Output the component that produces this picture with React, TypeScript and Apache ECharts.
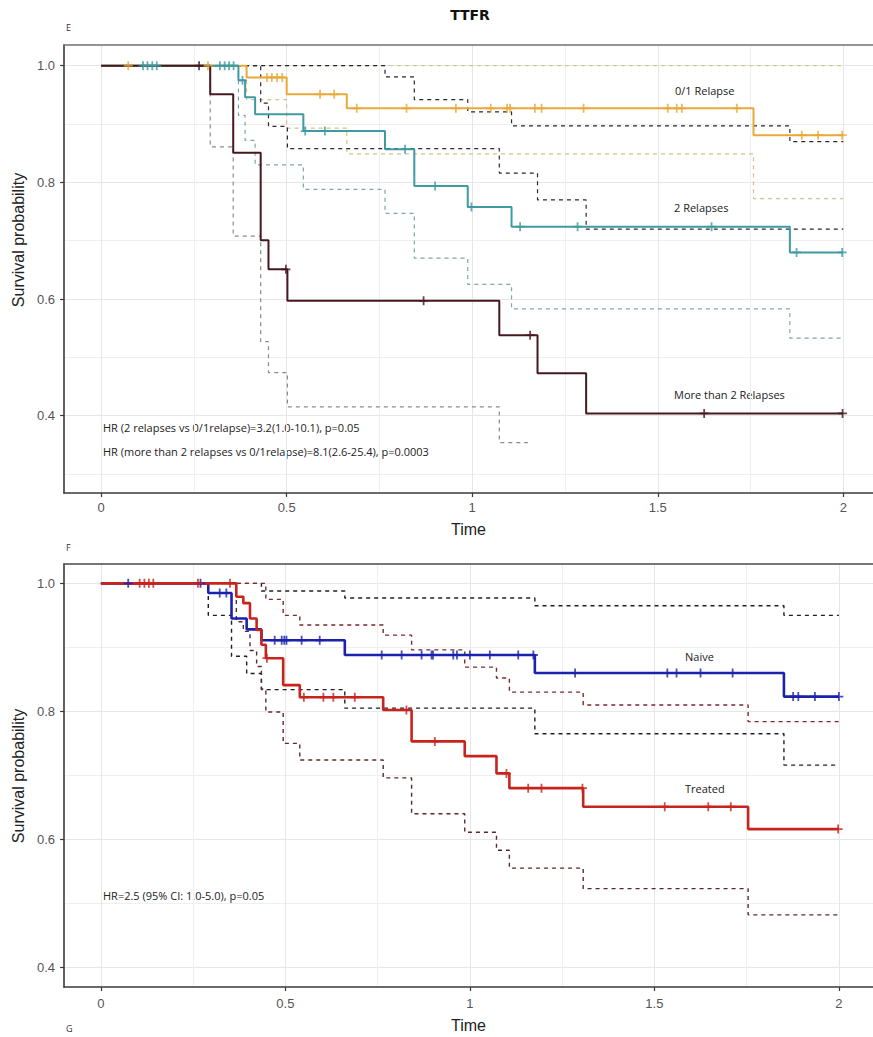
import React, { useEffect, useRef } from 'react';
import * as echarts from 'echarts';

// ---------- axis ticks ----------
const xTicks = [0, 0.5, 1, 1.5, 2];
const xTickLabels = ['0', '0.5', '1', '1.5', '2'];
const xMinor = [0.25, 0.75, 1.25, 1.75];
const yTicks = [0.4, 0.6, 0.8, 1.0];
const yTickLabels = ['0.4', '0.6', '0.8', '1.0'];
const yMinorTop = [0.3, 0.5, 0.7, 0.9];
const yMinorBottom = [0.5, 0.7, 0.9];

// ---------- panel E: relapses ----------
const rel01T = [0, 0.392, 0.5, 0.662, 1.758, 2.0];
const rel01S = [1.0, 0.98, 0.951, 0.927, 0.881, 0.881];
const rel01Cens = [0.073, 0.288, 0.447, 0.46, 0.474, 0.488, 0.59, 0.628, 0.689, 0.823, 0.956, 1.05, 1.094, 1.102, 1.169, 1.187, 1.3, 1.527, 1.551, 1.565, 1.713, 1.888, 1.932, 1.997];
const rel01UpT = [0, 2.0];
const rel01UpS = [1.0, 1.0];
const rel01LoT = [0, 0.392, 0.5, 0.662, 1.758, 2.0];
const rel01LoS = [1.0, 0.942, 0.893, 0.849, 0.772, 0.772];

const rel2T = [0, 0.37, 0.388, 0.415, 0.545, 0.765, 0.844, 0.988, 1.106, 1.856, 2.0];
const rel2S = [1.0, 0.975, 0.946, 0.917, 0.888, 0.857, 0.794, 0.758, 0.724, 0.68, 0.68];
const rel2Cens = [0.113, 0.125, 0.138, 0.15, 0.32, 0.333, 0.345, 0.357, 0.381, 0.55, 0.603, 0.819, 0.9, 0.998, 1.129, 1.284, 1.645, 1.874, 1.997];
const rel2UpT = [0, 0.765, 0.844, 0.988, 1.106, 1.856, 2.0];
const rel2UpS = [1.0, 0.981, 0.942, 0.921, 0.897, 0.87, 0.87];
const rel2LoT = [0, 0.37, 0.388, 0.415, 0.545, 0.765, 0.844, 0.988, 1.106, 1.856, 2.0];
const rel2LoS = [1.0, 0.915, 0.872, 0.83, 0.788, 0.747, 0.67, 0.625, 0.583, 0.533, 0.533];

const rel3T = [0, 0.294, 0.356, 0.43, 0.451, 0.502, 1.073, 1.176, 1.307, 2.0];
const rel3S = [1.0, 0.951, 0.851, 0.701, 0.651, 0.597, 0.538, 0.473, 0.404, 0.404];
const rel3Cens = [0.264, 0.498, 0.869, 1.156, 1.625, 1.998];
const rel3UpT = [0, 0.43, 0.451, 0.502, 1.073, 1.176, 1.307, 2.0];
const rel3UpS = [1.0, 0.936, 0.896, 0.858, 0.816, 0.77, 0.72, 0.72];
const rel3LoT = [0, 0.294, 0.356, 0.43, 0.451, 0.502, 1.073, 1.15];
const rel3LoS = [1.0, 0.861, 0.708, 0.527, 0.474, 0.415, 0.354, 0.354];

// ---------- panel F: naive vs treated ----------
const naiveT = [0, 0.291, 0.354, 0.395, 0.435, 0.661, 1.176, 1.851, 2.0];
const naiveS = [1.0, 0.985, 0.945, 0.928, 0.911, 0.888, 0.86, 0.823, 0.823];
const naiveCens = [0.074, 0.27, 0.322, 0.34, 0.471, 0.49, 0.497, 0.503, 0.544, 0.593, 0.761, 0.815, 0.869, 0.896, 0.9, 0.955, 0.965, 1.0, 1.054, 1.131, 1.172, 1.285, 1.535, 1.56, 1.625, 1.712, 1.876, 1.89, 1.935, 2.0];
const naiveUpT = [0, 0.435, 0.661, 1.176, 1.851, 2.0];
const naiveUpS = [1.0, 0.988, 0.977, 0.965, 0.95, 0.95];
const naiveLoT = [0, 0.291, 0.354, 0.395, 0.435, 0.661, 1.176, 1.851, 2.0];
const naiveLoS = [1.0, 0.95, 0.886, 0.859, 0.834, 0.805, 0.765, 0.716, 0.716];

const treatT = [0, 0.367, 0.386, 0.404, 0.422, 0.435, 0.447, 0.494, 0.539, 0.765, 0.842, 0.986, 1.072, 1.107, 1.307, 1.754, 2.0];
const treatS = [1.0, 0.979, 0.969, 0.945, 0.927, 0.904, 0.883, 0.841, 0.822, 0.802, 0.753, 0.73, 0.703, 0.68, 0.651, 0.616, 0.616];
const treatCens = [0.105, 0.118, 0.13, 0.142, 0.263, 0.35, 0.45, 0.55, 0.603, 0.63, 0.688, 0.828, 0.905, 1.099, 1.158, 1.194, 1.305, 1.528, 1.646, 1.707, 1.998];
const treatUpT = [0, 0.447, 0.494, 0.539, 0.765, 0.842, 0.986, 1.072, 1.107, 1.307, 1.754, 2.0];
const treatUpS = [1.0, 0.975, 0.95, 0.935, 0.919, 0.896, 0.869, 0.852, 0.83, 0.81, 0.784, 0.784];
const treatLoT = [0, 0.367, 0.386, 0.404, 0.422, 0.435, 0.447, 0.494, 0.539, 0.765, 0.842, 0.986, 1.072, 1.107, 1.307, 1.754, 2.0];
const treatLoS = [1.0, 0.94, 0.925, 0.895, 0.87, 0.835, 0.799, 0.75, 0.724, 0.696, 0.64, 0.611, 0.583, 0.555, 0.523, 0.482, 0.482];

// ---------- colours ----------
const C_ORANGE = '#e9a93a';
const C_TEAL = '#3f9aa1';
const C_MAROON = '#46181f';
const C_BLUE = '#1b22ad';
const C_RED = '#c8241d';

const PLUS = 'path://M4,0h2v4h4v2h-4v4h-2v-4h-4v-2h4z';

const zip = (T: number[], S: number[]) => T.map((t, i) => [t, S[i]]);
const stepAt = (T: number[], S: number[], t: number) => {
  let v = S[0];
  for (let i = 0; i < T.length; i++) if (T[i] <= t) v = S[i];
  return v;
};
const lbl = (ticks: number[], labels: string[], v: number) => {
  const i = ticks.findIndex((k) => Math.abs(k - v) < 1e-9);
  return i >= 0 ? labels[i] : '';
};

const curve = (ax: number, T: number[], S: number[], color: string, width = 2) => ({
  type: 'line', xAxisIndex: ax, yAxisIndex: ax, step: 'end', showSymbol: false, silent: true,
  data: zip(T, S), lineStyle: { color, width }, z: 4,
});
const ci = (ax: number, T: number[], S: number[], color: string, width = 1.2) => ({
  type: 'line', xAxisIndex: ax, yAxisIndex: ax, step: 'end', showSymbol: false, silent: true,
  data: zip(T, S), lineStyle: { color, width, type: [4, 4] }, z: 3,
});
const cens = (ax: number, T: number[], S: number[], C: number[], color: string) => ({
  type: 'scatter', xAxisIndex: ax, yAxisIndex: ax, symbol: PLUS, symbolSize: 9, silent: true,
  data: C.map((t) => [t, stepAt(T, S, t)]), itemStyle: { color }, z: 5,
});

const AXIS_FONT = 'Liberation Sans, Arial, sans-serif';
const ANN_FONT = 'Open Sans, sans-serif';

const mainX = (gridIndex: number, max: number, nameGap: number, margin: number) => ({
  type: 'value', gridIndex, min: -0.1, max, position: 'bottom',
  axisLine: { show: true, onZero: false, lineStyle: { color: '#3a3a3a', width: 1.6 } },
  axisTick: { show: true, length: 4, customValues: xTicks, lineStyle: { color: '#3a3a3a', width: 1.2 } },
  axisLabel: { customValues: xTicks, formatter: (v: number) => lbl(xTicks, xTickLabels, v), color: '#555', fontSize: 13, margin, fontFamily: AXIS_FONT },
  splitLine: { show: true, lineStyle: { color: '#e6e6e6', width: 1 } },
  name: 'Time', nameLocation: 'middle', nameGap,
  nameTextStyle: { fontSize: 16, color: '#222', fontFamily: AXIS_FONT },
});
const minorX = (gridIndex: number, max: number, borderColor: string) => ({
  type: 'value', gridIndex, min: -0.1, max, position: 'top',
  axisLine: { show: true, onZero: false, lineStyle: { color: borderColor, width: 1.6 } },
  axisTick: { show: false, customValues: xMinor }, axisLabel: { show: false },
  splitLine: { show: true, lineStyle: { color: '#efefef', width: 1 } },
});
const mainY = (gridIndex: number, min: number, max: number) => ({
  type: 'value', gridIndex, min, max, position: 'left',
  axisLine: { show: true, onZero: false, lineStyle: { color: '#3a3a3a', width: 1.6 } },
  axisTick: { show: true, length: 4, customValues: yTicks, lineStyle: { color: '#3a3a3a', width: 1.2 } },
  axisLabel: { customValues: yTicks, formatter: (v: number) => lbl(yTicks, yTickLabels, v), color: '#555', fontSize: 13, margin: 9, fontFamily: AXIS_FONT },
  splitLine: { show: true, lineStyle: { color: '#e6e6e6', width: 1 } },
});
const minorY = (gridIndex: number, min: number, max: number, vals: number[]) => ({
  type: 'value', gridIndex, min, max, position: 'right',
  axisLine: { show: false }, axisTick: { show: false, customValues: vals }, axisLabel: { show: false },
  splitLine: { show: true, lineStyle: { color: '#efefef', width: 1 } },
});

const annText = (x: number, y: number, text: string, size = 11, extra: any = {}) => ({
  type: 'text', x, y, silent: true,
  style: { text, fill: '#222', font: `${size}px ${ANN_FONT}`, align: 'left', verticalAlign: 'middle', ...extra },
});

export default function App() {
  const ref = useRef<HTMLDivElement>(null);
  useEffect(() => {
    if (!ref.current) return;
    const chart = echarts.init(ref.current, undefined, { renderer: 'svg' });
    const TOP_XMAX = 2.08;
    const BOT_XMAX = 2.0924;
    const TOP_YMIN = 0.2675, TOP_YMAX = 1.0355;
    const BOT_YMIN = 0.3693, BOT_YMAX = 1.0302;
    chart.setOption({
      animation: false,
      backgroundColor: '#fff',
      grid: [
        { left: 64, top: 45, width: 809, height: 448, show: false },
        { left: 64, top: 564, width: 809, height: 423, show: false },
      ],
      xAxis: [
        mainX(0, TOP_XMAX, 28, 8),
        minorX(0, TOP_XMAX, '#707070'),
        mainX(1, BOT_XMAX, 30, 10),
        minorX(1, BOT_XMAX, '#4a4a4a'),
      ],
      yAxis: [
        mainY(0, TOP_YMIN, TOP_YMAX),
        minorY(0, TOP_YMIN, TOP_YMAX, yMinorTop),
        mainY(1, BOT_YMIN, BOT_YMAX),
        minorY(1, BOT_YMIN, BOT_YMAX, yMinorBottom),
      ],
      series: [
        ci(0, rel01UpT, rel01UpS, '#dcc48c'),
        ci(0, rel01LoT, rel01LoS, '#d8c090'),
        ci(0, rel2UpT, rel2UpS, '#2a2a2a'),
        ci(0, rel2LoT, rel2LoS, '#7fa6a8'),
        ci(0, rel3UpT, rel3UpS, '#2a2a2a'),
        ci(0, rel3LoT, rel3LoS, '#8a8a8a'),
        curve(0, rel01T, rel01S, C_ORANGE),
        curve(0, rel2T, rel2S, C_TEAL),
        curve(0, rel3T, rel3S, C_MAROON),
        cens(0, rel01T, rel01S, rel01Cens, C_ORANGE),
        cens(0, rel2T, rel2S, rel2Cens, C_TEAL),
        cens(0, rel3T, rel3S, rel3Cens, C_MAROON),

        ci(2, naiveUpT, naiveUpS, '#1e1e2a', 1.4),
        ci(2, naiveLoT, naiveLoS, '#1e1e2a', 1.4),
        ci(2, treatUpT, treatUpS, '#7a2a2a', 1.4),
        ci(2, treatLoT, treatLoS, '#5a2a2a', 1.4),
        curve(2, naiveT, naiveS, C_BLUE, 2.6),
        curve(2, treatT, treatS, C_RED, 2.6),
        cens(2, naiveT, naiveS, naiveCens, C_BLUE),
        cens(2, treatT, treatS, treatCens, C_RED),
      ],
      graphic: [
        { type: 'text', x: 470, y: 15, silent: true, style: { text: 'TTFR', fill: '#111', font: `bold 14px DejaVu Sans, sans-serif`, align: 'center', verticalAlign: 'middle' } },
        annText(66, 27, 'E', 9, { fill: '#333' }),
        annText(66, 547, 'F', 9, { fill: '#333' }),
        annText(66, 1028, 'G', 9, { fill: '#333' }),
        { type: 'text', x: 18, y: 240, rotation: Math.PI / 2, silent: true, style: { text: 'Survival probability', fill: '#222', font: `16px ${AXIS_FONT}`, align: 'center', verticalAlign: 'middle' } },
        { type: 'text', x: 18, y: 776, rotation: Math.PI / 2, silent: true, style: { text: 'Survival probability', fill: '#222', font: `16px ${AXIS_FONT}`, align: 'center', verticalAlign: 'middle' } },
        annText(675, 90, '0/1 Relapse'),
        annText(674, 207, '2 Relapses'),
        annText(674, 394, 'More than 2 Relapses'),
        annText(103, 427, 'HR (2 relapses vs 0/1relapse)=3.2(1.0-10.1), p=0.05'),
        annText(103, 451, 'HR (more than 2 relapses vs 0/1relapse)=8.1(2.6-25.4), p=0.0003'),
        annText(685, 656, 'Naive'),
        annText(685, 788, 'Treated'),
        annText(103, 895, 'HR=2.5 (95% CI: 1.0-5.0), p=0.05'),
      ],
    });
    return () => chart.dispose();
  }, []);
  return <div ref={ref} style={{ position: 'absolute', left: 0, top: 0, width: 873, height: 1037 }} />;
}
